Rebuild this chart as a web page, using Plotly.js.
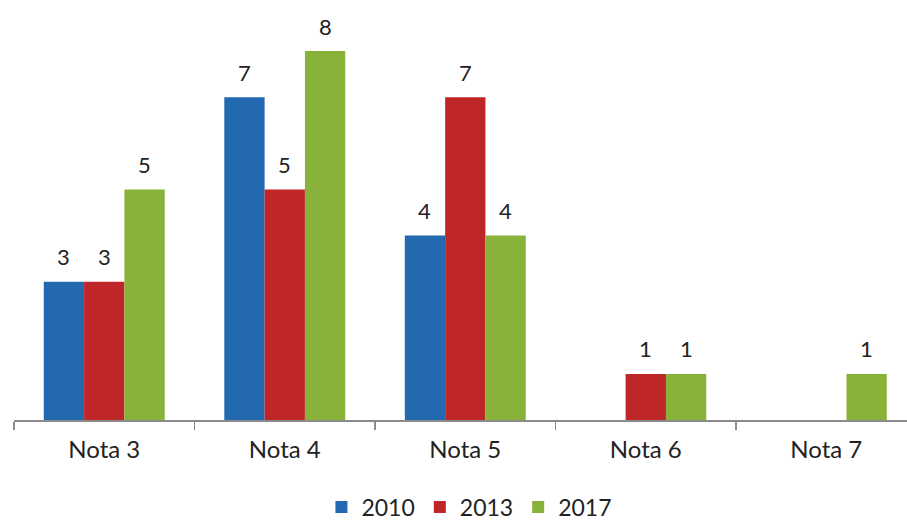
<!DOCTYPE html>
<html>
<head>
<meta charset="utf-8">
<script src="https://cdn.plot.ly/plotly-3.0.1.min.js"></script>
<style>html,body{margin:0;padding:0;background:#fff}</style>
</head>
<body>
<div id="chart" style="width:907px;height:521px"></div>
<script>
var categories = ["Nota 3", "Nota 4", "Nota 5", "Nota 6", "Nota 7"];
var series2010 = [3, 7, 4, null, null];
var series2013 = [3, 5, 7, 1, null];
var series2017 = [5, 8, 4, 1, 1];
var seriesNames = ["2010", "2013", "2017"];
var colors = ["#2269AF", "#BF2628", "#89B23B"];

var allSeries = [series2010, series2013, series2017];
var font = "Lato, 'Open Sans', sans-serif";
var barPx = 40.3;

var traces = allSeries.map(function (vals, i) {
  return {
    type: "bar",
    name: seriesNames[i],
    x: categories,
    y: vals,
    marker: {color: colors[i], line: {width: 0}},
    hoverinfo: "none"
  };
});

var annotations = [];
allSeries.forEach(function (vals, i) {
  vals.forEach(function (v, j) {
    if (v === null) return;
    annotations.push({
      xref: "x", yref: "y", x: categories[j], y: v,
      text: String(v), showarrow: false,
      xshift: (i - 1) * barPx, yshift: 25,
      xanchor: "center", yanchor: "middle",
      font: {family: font, size: 22, color: "#222"}
    });
  });
});

var layout = {
  width: 907, height: 521,
  paper_bgcolor: "#fff", plot_bgcolor: "#fff",
  margin: {l: 14, r: 0, t: 5, b: 101},
  barmode: "group",
  bargap: 0.33,
  bargroupgap: 0,
  showlegend: true,
  legend: {
    orientation: "h", x: 0.51, xanchor: "center",
    yref: "container", y: 0.027, yanchor: "middle",
    font: {family: font, size: 23, color: "#222"},
    itemwidth: 30, traceorder: "normal"
  },
  annotations: annotations,
  xaxis: {
    type: "category",
    range: [-0.5, 4.447],
    automargin: false,
    showline: true, linecolor: "#8A8A8A", linewidth: 1.5,
    ticks: "outside", tickson: "boundaries", ticklen: 8, tickcolor: "#8A8A8A", tickwidth: 1.5,
    tickfont: {family: font, size: 24, color: "#222"},
    ticklabelstandoff: 8,
    showgrid: false, zeroline: false
  },
  yaxis: {
    range: [0, 9.0],
    automargin: false,
    visible: false, showgrid: false, zeroline: false
  }
};

Plotly.newPlot("chart", traces, layout, {displayModeBar: false, staticPlot: true});
</script>
</body>
</html>
